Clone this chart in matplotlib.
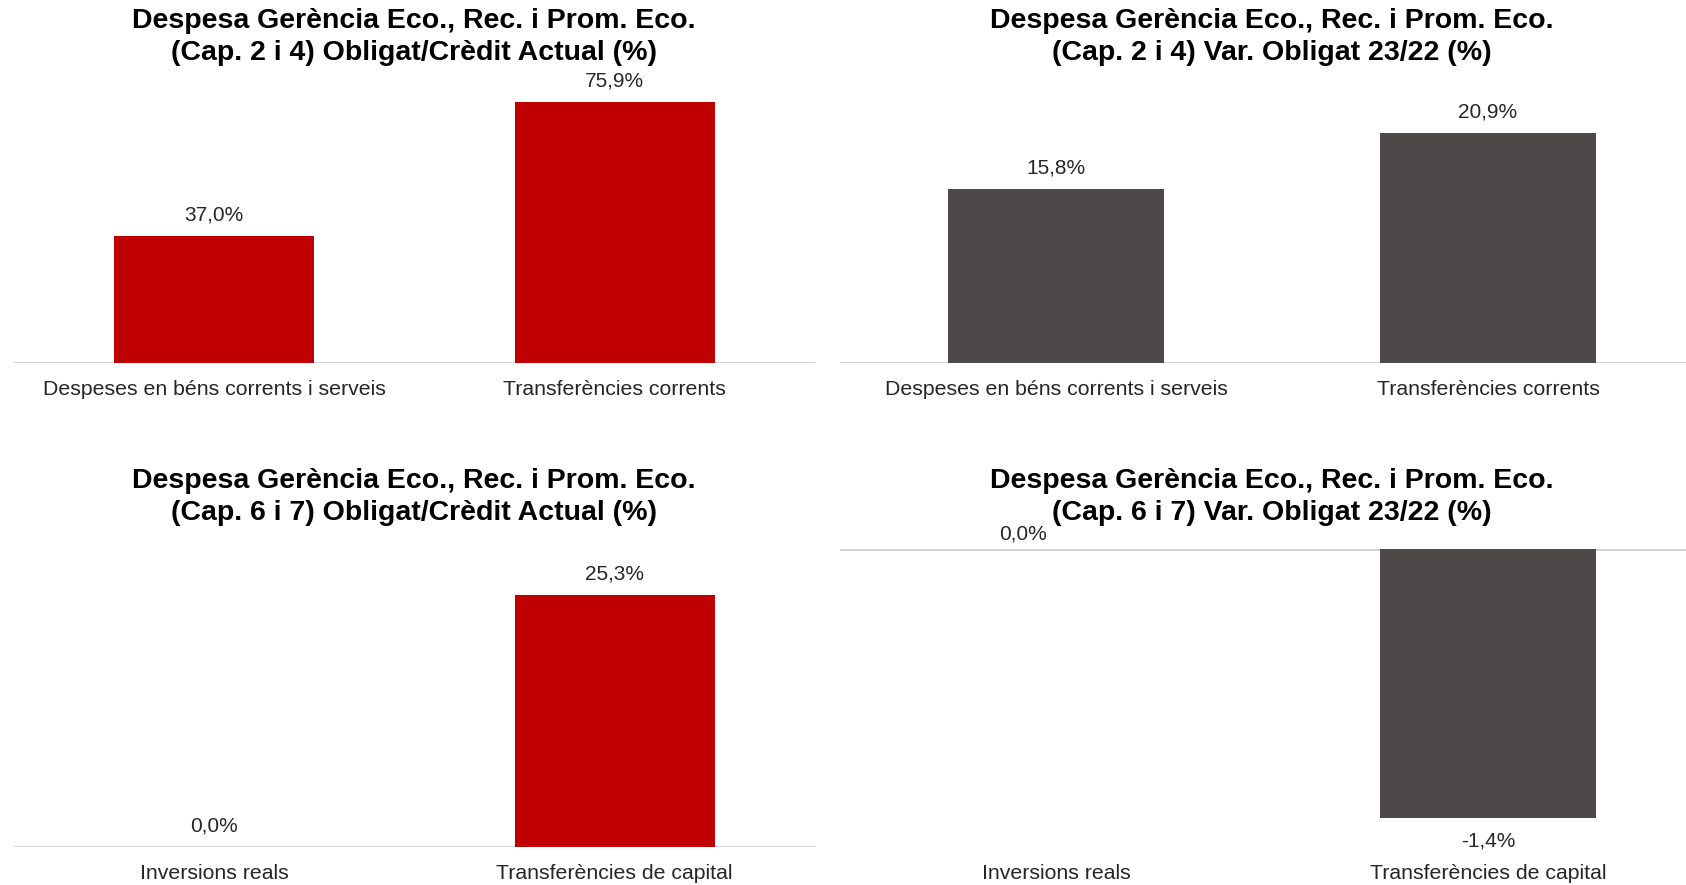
import matplotlib
matplotlib.use("Agg")
import matplotlib.pyplot as plt

plt.rcParams['font.family'] = ['Liberation Sans', 'DejaVu Sans']

# data
cats_cap24 = ["Despeses en béns corrents i serveis", "Transferències corrents"]
cats_cap67 = ["Inversions reals", "Transferències de capital"]
oblig_cred_cap24 = [37.0, 75.9]
var_oblig_cap24 = [15.8, 20.9]
oblig_cred_cap67 = [0.0, 25.3]
var_oblig_cap67 = [0.0, -1.4]

titles = [
    "Despesa Gerència Eco., Rec. i Prom. Eco.\n(Cap. 2 i 4) Obligat/Crèdit Actual (%)",
    "Despesa Gerència Eco., Rec. i Prom. Eco.\n(Cap. 2 i 4) Var. Obligat 23/22 (%)",
    "Despesa Gerència Eco., Rec. i Prom. Eco.\n(Cap. 6 i 7) Obligat/Crèdit Actual (%)",
    "Despesa Gerència Eco., Rec. i Prom. Eco.\n(Cap. 6 i 7) Var. Obligat 23/22 (%)",
]

RED = "#C00000"
GREY = "#4D4948"
LINE = "#D0D0D0"
TXT = "#262626"

W, H = 1686, 885
fig = plt.figure(figsize=(W / 100, H / 100), dpi=100)


def px_axes(left, right, top, bottom):
    return fig.add_axes([left / W, 1 - bottom / H, (right - left) / W, (bottom - top) / H])


def fmt(v):
    return "{:.1f}%".format(v).replace(".", ",")


def bar_panel(ax, cats, vals, color, ylim, zero_label_dx=0):
    x = range(len(cats))
    ax.bar(x, vals, width=0.5, color=color, zorder=2)
    ax.set_xlim(-0.5, 1.5)
    ax.set_ylim(*ylim)
    for s in ax.spines.values():
        s.set_visible(False)
    ax.axhline(0, color=LINE, lw=2, zorder=1)
    ax.set_yticks([])
    ax.set_xticks(list(x))
    ax.set_xticklabels(cats, fontsize=15.3, color=TXT)
    ax.tick_params(axis="x", length=0)
    for xi, v in zip(x, vals):
        if v < 0:
            ax.annotate(fmt(v), (xi, v), xytext=(0, -17), textcoords="offset points",
                        ha="center", va="center", fontsize=15, color=TXT)
        elif v == 0 and zero_label_dx:
            ax.annotate(fmt(v), (xi, v), xytext=(zero_label_dx, 11), textcoords="offset points",
                        ha="center", va="center", fontsize=15, color=TXT)
        else:
            ax.annotate(fmt(v), (xi, v), xytext=(0, 15), textcoords="offset points",
                        ha="center", va="center", fontsize=15, color=TXT)


ax1 = px_axes(14, 815, 88, 363)
bar_panel(ax1, cats_cap24, oblig_cred_cap24, RED, (0, 80))
ax1.tick_params(axis="x", pad=12)

ax2 = px_axes(840, 1704, 88, 363)
bar_panel(ax2, cats_cap24, var_oblig_cap24, GREY, (0, 25))
ax2.tick_params(axis="x", pad=12)

ax3 = px_axes(14, 815, 548, 847)
bar_panel(ax3, cats_cap67, oblig_cred_cap67, RED, (0, 30))
ax3.tick_params(axis="x", pad=12)

ax4 = px_axes(840, 1704, 549, 856)
bar_panel(ax4, cats_cap67, var_oblig_cap67, GREY, (-1.6, 0), zero_label_dx=-24)
ax4.tick_params(axis="x", pad=6)

title_pos = [(414, 37), (1272, 37), (414, 497), (1272, 497)]
for t, (tx, ty) in zip(titles, title_pos):
    fig.text(tx / W, 1 - ty / H, t, ha="center", va="center", fontsize=20.5,
             fontweight="bold", color="black", linespacing=1.28)

fig.savefig("out.png", dpi=100, facecolor="white")
